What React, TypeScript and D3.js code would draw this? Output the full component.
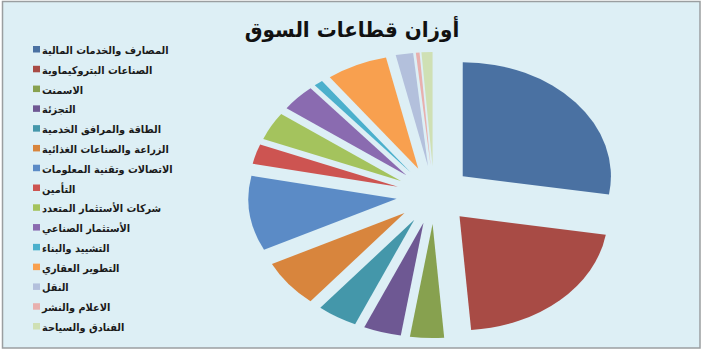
import React from "react";
import * as d3 from "d3";

// Sector names, in legend / slice order (clockwise from 12 o'clock)
const sectors: string[] = [
  "المصارف والخدمات المالية",
  "الصناعات البتروكيماوية",
  "الاسمنت",
  "التجزئة",
  "الطاقة والمرافق الخدمية",
  "الزراعة والصناعات الغذائية",
  "الاتصالات وتقنية المعلومات",
  "التأمين",
  "شركات الأستثمار المتعدد",
  "الأستثمار الصناعي",
  "التشييد والبناء",
  "التطوير العقاري",
  "النقل",
  "الاعلام والنشر",
  "الفنادق والسياحة",
];

// Market weight of each sector (%)
const weights: number[] = [
  27.6, 21.2, 3.7, 4.1, 4.4, 6.7, 10.6, 2.8, 4.0, 3.8, 1.0, 6.7, 1.9, 0.4, 1.2,
];

const sectorColors: string[] = [
  "#4a71a2",
  "#a84b45",
  "#87a14f",
  "#6e5893",
  "#4497aa",
  "#d8853d",
  "#5b8bc6",
  "#cd5451",
  "#a4c35d",
  "#8a6bb0",
  "#4bb0cc",
  "#f8a04f",
  "#b3c0dc",
  "#e8b0ae",
  "#cfe0b4",
];

const title = "أوزان قطاعات السوق";

const W = 702;
const H = 351;

export default function App() {
  const cx = 434;
  const cy = 195;
  const radius = 114;
  const explode = 29;
  const stretchX = 1.3;

  const pie = d3
    .pie<number>()
    .sort(null)
    .value((d) => d)
    .startAngle(0)
    .endAngle(2 * Math.PI);
  const arcs = pie(weights);
  const arcGen = d3.arc<d3.PieArcDatum<number>>().innerRadius(0).outerRadius(radius);

  const color = d3.scaleOrdinal<number, string>().domain(d3.range(sectors.length)).range(sectorColors);

  const rowY = d3
    .scalePoint<number>()
    .domain(d3.range(sectors.length))
    .range([49, 326]);

  const font = "'DejaVu Sans', sans-serif";

  return (
    <svg
      width={W}
      height={H}
      style={{ position: "absolute", left: 0, top: 0, display: "block" }}
    >
      <rect x={0} y={0} width={W} height={H} fill="#ffffff" />
      <rect
        x={2.5}
        y={1.5}
        width={697.5}
        height={346.5}
        fill="#ddeff5"
        stroke="#9a9ea0"
        strokeWidth={1.5}
      />

      <g transform={`translate(352,37) scale(0.95,1)`}>
        <text
          x={0}
          y={0}
          textAnchor="middle"
          fontFamily={font}
          fontWeight="bold"
          fontSize={21}
          fill="#111"
        >
          {title}
        </text>
      </g>

      <g transform={`translate(${cx},${cy}) scale(${stretchX},1)`}>
        {arcs.map((a, i) => {
          const mid = (a.startAngle + a.endAngle) / 2;
          const dx = explode * Math.sin(mid);
          const dy = -explode * Math.cos(mid);
          return (
            <path
              key={i}
              d={arcGen(a) || ""}
              transform={`translate(${dx},${dy})`}
              fill={color(i)}
            />
          );
        })}
      </g>

      <g>
        {sectors.map((s, i) => {
          const y = rowY(i) as number;
          return (
            <g key={i}>
              <rect x={33} y={y - 3} width={7} height={6.5} fill={color(i)} />
              <g transform={`translate(42,${y + 5}) scale(0.93,1)`}>
                <text
                  x={0}
                  y={0}
                  fontFamily={font}
                  fontWeight="bold"
                  fontSize={10.5}
                  fill="#1a1a1a"
                >
                  {s}
                </text>
              </g>
            </g>
          );
        })}
      </g>
    </svg>
  );
}
